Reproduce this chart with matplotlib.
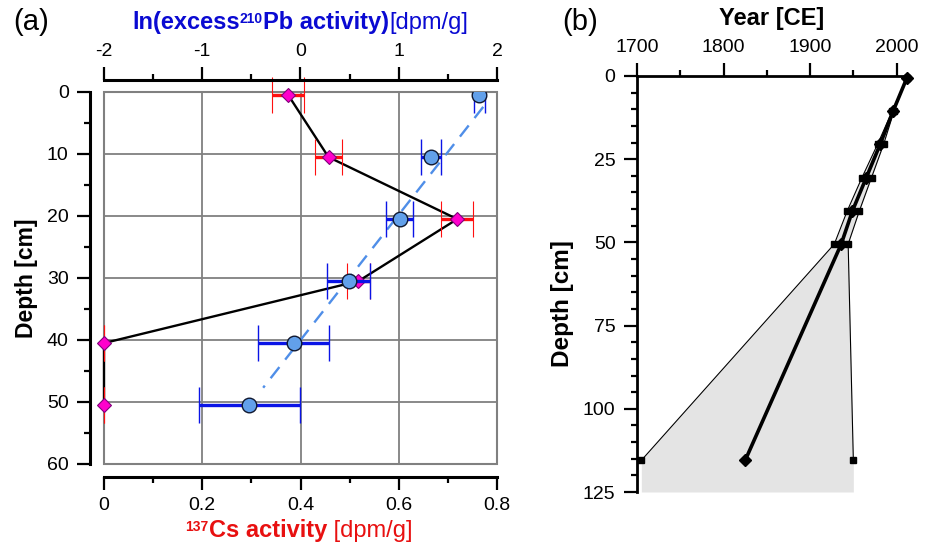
import matplotlib
matplotlib.use("Agg")
import matplotlib.pyplot as plt
from matplotlib.patches import Rectangle
from matplotlib.ticker import MultipleLocator

plt.rcParams['font.family'] = ['Liberation Sans', 'DejaVu Sans']
plt.rcParams['axes.unicode_minus'] = False

# ---------------- data: panel (a) ----------------
depth_a = [0.5, 10.5, 20.5, 30.5, 40.5, 50.5]
cs_activity = [0.375, 0.457, 0.719, 0.518, 0.0, 0.0]
cs_err = [0.033, 0.027, 0.032, 0.024, 0.0, 0.0]
ln_pb = [1.82, 1.325, 1.01, 0.49, -0.07, -0.52]
ln_pb_err = [0.056, 0.10, 0.14, 0.22, 0.36, 0.51]
fit_depth = [2.4, 47.7]
fit_ln_pb = [1.86, -0.38]

# ---------------- data: panel (b) ----------------
depth_b = [0.5, 10.5, 20.5, 30.5, 40.5, 50.5, 115.5]
year_mid = [2012, 1996, 1981, 1965, 1949, 1936, 1825]
year_lo = [2012, 1995, 1978, 1960, 1943, 1928, 1705]
year_hi = [2012, 1997, 1985, 1971, 1957, 1944, 1950]
fill_bottom_depth = 125

W, H = 930, 550
fig = plt.figure(figsize=(9.3, 5.5), dpi=100)
renderer = fig.canvas.get_renderer()


def px(x0, y0, x1, y1):
    return [x0 / W, 1 - y1 / H, (x1 - x0) / W, (y1 - y0) / H]


def rich_label(pieces, cx, baseline_y, color):
    """pieces: list of (text, size, weight, raise_px). Centered at cx (px)."""
    texts = []
    widths = []
    for s, size, weight, rise in pieces:
        t = fig.text(0, 0, s, fontsize=size, fontweight=weight, color=color,
                     ha='left', va='baseline')
        texts.append((t, rise))
        widths.append(t.get_window_extent(renderer).width)
    total = sum(widths)
    x = cx - total / 2
    for (t, rise), w in zip(texts, widths):
        t.set_position((x / W, 1 - (baseline_y - rise) / H))
        x += w


TICK = 14
MAJ_LEN, MIN_LEN = 9.4, 4.5
CAP = 13

# ---------------- panel (a) ----------------
ax = fig.add_axes(px(104, 92, 497, 464))
ax.set_xlim(0, 0.8)
ax.set_ylim(60, 0)
ax.xaxis.set_major_locator(MultipleLocator(0.2))
ax.xaxis.set_minor_locator(MultipleLocator(0.1))
ax.yaxis.set_major_locator(MultipleLocator(10))
ax.yaxis.set_minor_locator(MultipleLocator(5))
ax.set_xticks([0, 0.2, 0.4, 0.6, 0.8])
ax.set_xticklabels(['0', '0.2', '0.4', '0.6', '0.8'])
ax.grid(True, which='major', color='#808080', lw=1.3)
for s in ['top', 'right']:
    ax.spines[s].set_visible(False)
ax.spines['left'].set_position(('outward', 10))
ax.spines['bottom'].set_position(('outward', 9.4))
ax.spines['left'].set_linewidth(2.2)
ax.spines['bottom'].set_linewidth(2.2)
ax.tick_params(which='major', length=MAJ_LEN, width=1.6, labelsize=TICK, pad=5)
ax.tick_params(which='minor', length=MIN_LEN, width=1.6)
ax.tick_params(axis='y', pad=6)
ax.add_patch(Rectangle((0, 0), 1, 1, transform=ax.transAxes, fill=False,
                       ec='#808080', lw=1.5, clip_on=False, zorder=1))

ax.plot(cs_activity, depth_a, color='black', lw=1.7, zorder=3, clip_on=False)
eb = ax.errorbar(cs_activity, depth_a, xerr=cs_err, fmt='D', ms=7.5,
                 mfc='#ff00cc', mec='#80007a', mew=0.8, ecolor='#ff1010',
                 elinewidth=2.4, capsize=CAP, capthick=3.0, zorder=4)
for art in [eb.lines[0]] + list(eb.lines[1]) + list(eb.lines[2]):
    art.set_clip_on(False)

ax2 = ax.twiny()
ax2.set_xlim(-2, 2)
ax2.set_ylim(60, 0)
ax2.patch.set_visible(False)
ax2.xaxis.set_major_locator(MultipleLocator(1))
ax2.xaxis.set_minor_locator(MultipleLocator(0.5))
for s in ['bottom', 'right', 'left']:
    ax2.spines[s].set_visible(False)
ax2.spines['top'].set_position(('outward', 8.6))
ax2.spines['top'].set_linewidth(2.2)
ax2.tick_params(which='major', length=MAJ_LEN, width=1.6, labelsize=TICK, pad=5)
ax2.tick_params(which='minor', length=MIN_LEN, width=1.6)

ax2.plot(fit_ln_pb, fit_depth, color='#4f8ee8', lw=1.7, ls=(0, (6, 4)), zorder=2)
ax2.errorbar(ln_pb, depth_a, xerr=ln_pb_err, fmt='o', ms=10.5,
             mfc='#62a0ea', mec='#101830', mew=1.0, ecolor='#0a14e6',
             elinewidth=2.4, capsize=CAP, capthick=3.0, zorder=5)

fig.text(31 / W, 1 - 22 / H, '(a)', fontsize=21, ha='center', va='center')
rich_label([('ln(excess', 17, 'bold', 0),
            ('210', 10, 'bold', 6),
            ('Pb activity)', 17, 'bold', 0),
            ('[dpm/g]', 17, 'normal', 0)],
           300, 29, '#0a0ad2')
rich_label([('137', 10, 'bold', 6),
            ('Cs activity', 17, 'bold', 0),
            (' [dpm/g]', 17, 'normal', 0)],
           299, 537, '#e81010')
fig.text(27 / W, 1 - 278 / H, 'Depth [cm]', fontsize=16.5, fontweight='bold',
         rotation=90, ha='center', va='center')

# ---------------- panel (b) ----------------
bx = fig.add_axes(px(637, 76, 907, 492))
bx.set_xlim(1700, 2012)
bx.set_ylim(125, 0)
bx.xaxis.tick_top()
bx.xaxis.set_major_locator(MultipleLocator(100))
bx.xaxis.set_minor_locator(MultipleLocator(50))
bx.yaxis.set_major_locator(MultipleLocator(25))
bx.yaxis.set_minor_locator(MultipleLocator(5))
for s in ['bottom', 'right']:
    bx.spines[s].set_visible(False)
bx.spines['left'].set_linewidth(2.0)
bx.spines['top'].set_linewidth(2.0)
bx.tick_params(which='major', length=MAJ_LEN, width=1.6, labelsize=TICK, pad=5)
bx.tick_params(which='minor', length=MIN_LEN, width=1.6)
bx.tick_params(axis='y', pad=6)

fill_d = depth_b + [fill_bottom_depth]
fill_lo = year_lo + [year_lo[-1]]
fill_hi = year_hi + [year_hi[-1]]
bx.fill_betweenx(fill_d, fill_lo, fill_hi, color='#e4e4e4', lw=0, zorder=1)
bx.plot(year_lo, depth_b, color='black', lw=0.8, marker='s', ms=5, zorder=3, clip_on=False)
bx.plot(year_hi, depth_b, color='black', lw=0.8, marker='s', ms=5, zorder=3, clip_on=False)
bx.plot(year_mid, depth_b, color='black', lw=2.6, marker='D', ms=6.5, zorder=4, clip_on=False)

fig.text(580 / W, 1 - 22 / H, '(b)', fontsize=21, ha='center', va='center')
fig.text(772 / W, 1 - 19 / H, 'Year [CE]', fontsize=17, fontweight='bold',
         ha='center', va='center')
fig.text(563 / W, 1 - 304 / H, 'Depth [cm]', fontsize=17.5, fontweight='bold',
         rotation=90, ha='center', va='center')

fig.savefig('out.png', dpi=100)
